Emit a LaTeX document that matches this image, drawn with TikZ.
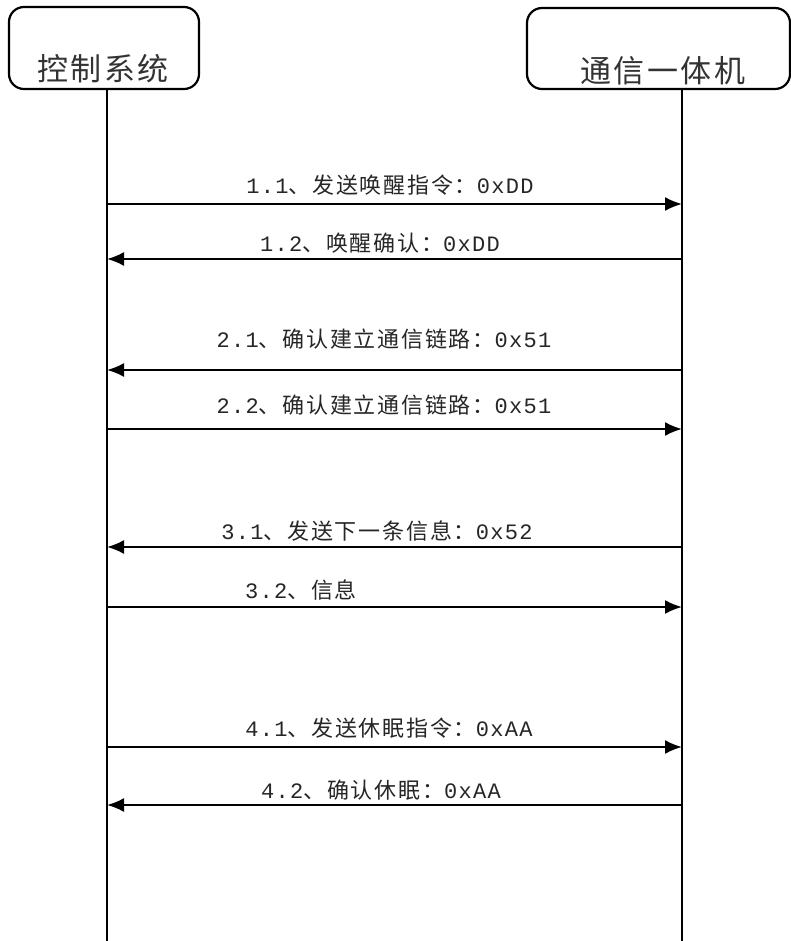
\documentclass[tikz,border=0pt]{standalone}
\usepackage{fontspec}
\setmainfont{Noto Sans CJK SC}
\newfontfamily\cjk{Noto Sans CJK SC}[LetterSpace=8]
\newfontfamily\lat{Liberation Mono}[LetterSpace=6]
\usetikzlibrary{arrows.meta}
\newcommand\msgtxt[3]{{\lat #1}{\cjk #2}{\lat #3}}
\tikzset{
  actor/.style={draw=black, line width=2.2pt, rounded corners=15pt, inner sep=0pt},
  actortext/.style={font=\fontsize{31}{35}\selectfont\cjk, text=black!80, inner sep=0pt},
  life/.style={line width=2pt, draw=black},
  msg/.style={line width=2pt, draw=black, -{Latex[length=17pt,width=14pt]}},
  msglabel/.style={font=\fontsize{22}{26}\selectfont, text=black!85, inner sep=0pt}
}
\begin{document}
\begin{tikzpicture}[x=1pt,y=-1pt]
\useasboundingbox (0,0) rectangle (791,941);
% actors
\node[actor, minimum width=190pt, minimum height=82pt] (lbox) at (104,48) {};
\node[actor, minimum width=263pt, minimum height=81pt] (rbox) at (658.5,48.5) {};
\node[actortext] (ltext) at (103,69) {控制系统};
\node[actortext] (rtext) at (663,71) {通信一体机};
% lifelines
\coordinate (L0) at (107,89);
\coordinate (L1) at (107,941);
\coordinate (R0) at (682,89);
\coordinate (R1) at (682,941);
\draw[life] (L0) -- (L1);
\draw[life] (R0) -- (R1);
% message end points
\foreach \n/\y in {a/204, b/259, c/370, d/429, e/547, f/607, g/747, h/805}{
  \coordinate (\n L) at (107,\y);
  \coordinate (\n R) at (682,\y);
}
\draw[msg] (aL) -- (aR);
\draw[msg] (bR) -- (bL);
\draw[msg] (cR) -- (cL);
\draw[msg] (dL) -- (dR);
\draw[msg] (eR) -- (eL);
\draw[msg] (fL) -- (fR);
\draw[msg] (gL) -- (gR);
\draw[msg] (hR) -- (hL);
% labels
\node[msglabel] (ta) at (390,185) {\msgtxt{1.1}{、发送唤醒指令：}{0xDD}};
\node[msglabel] (tb) at (380,243) {\msgtxt{1.2}{、唤醒确认：}{0xDD}};
\node[msglabel] (tc) at (384,339) {\msgtxt{2.1}{、确认建立通信链路：}{0x51}};
\node[msglabel] (td) at (384,405) {\msgtxt{2.2}{、确认建立通信链路：}{0x51}};
\node[msglabel] (te) at (377,531) {\msgtxt{3.1}{、发送下一条信息：}{0x52}};
\node[msglabel] (tf) at (301,590) {\msgtxt{3.2}{、信息}{}};
\node[msglabel] (tg) at (389,728) {\msgtxt{4.1}{、发送休眠指令：}{0xAA}};
\node[msglabel] (th) at (381,790) {\msgtxt{4.2}{、确认休眠：}{0xAA}};
\end{tikzpicture}
\end{document}
